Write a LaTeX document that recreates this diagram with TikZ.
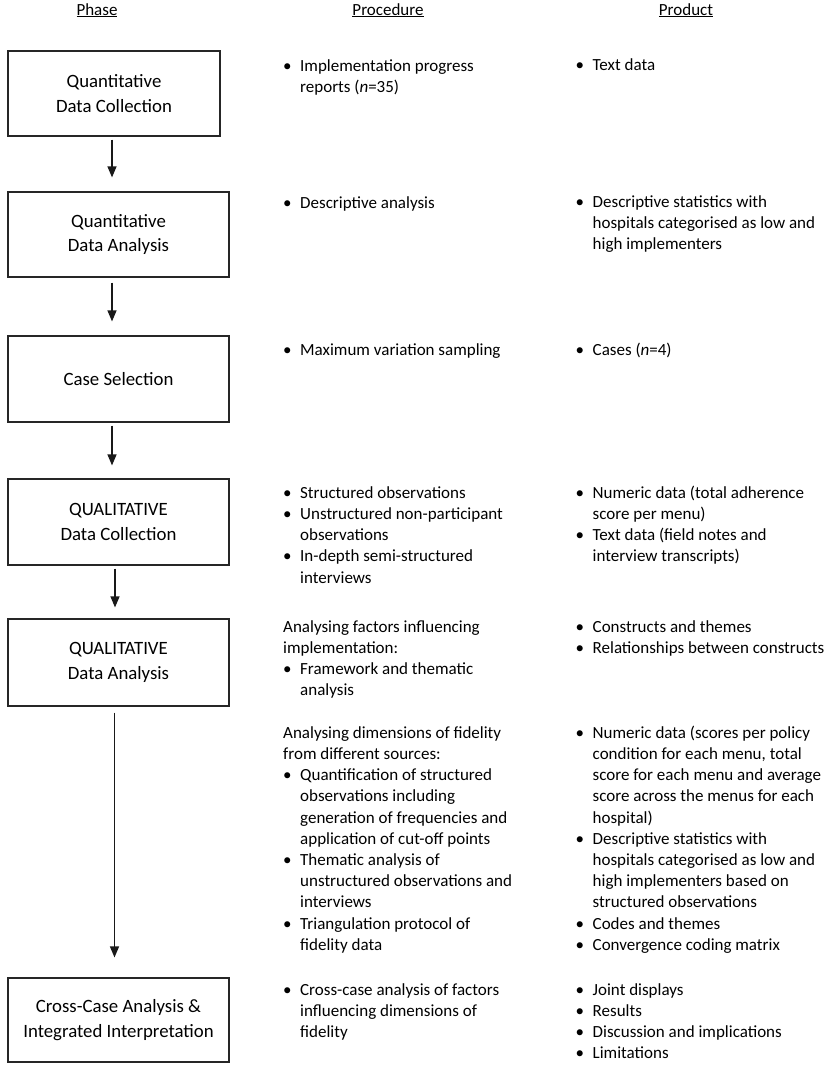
\documentclass[tikz,border=0pt]{standalone}
\usepackage{fontspec}
\setmainfont{Carlito}
\usetikzlibrary{arrows.meta,calc}
\newcommand\bu{\makebox[17pt][l]{•}}
\newcommand\ct{\hspace*{17pt}}
\tikzset{
  lst/.style={anchor=north west, inner sep=0pt, align=left, font=\fontsize{17}{21.2}\selectfont},
  boxst/.style={draw=black!85, line width=1.2pt, align=center, inner sep=0pt, anchor=center,
    font=\fontsize{18.8}{24.5}\selectfont},
  hdr/.style={anchor=base, inner sep=0pt, font=\fontsize{17}{21}\selectfont},
  arr/.style={draw=black!90, line width=1.3pt, -{Triangle[width=9pt,length=11pt]}}
}
\newcommand\blk[4]{\node[lst] (#1) at (#2,#3-15) {\rule{0pt}{15pt}#4};}
\begin{document}
\begin{tikzpicture}[x=1pt,y=-1pt]
\useasboundingbox (0,0) rectangle (829,1068);
% headers
\node[hdr] (h1) at (97,15) {\underline{Phase}};
\node[hdr] (h2) at (388,15) {\underline{Procedure}};
\node[hdr] (h3) at (686,15) {\underline{Product}};
% boxes
\node[boxst, minimum width=212pt, minimum height=85pt] (b1) at (114,93.5) {Quantitative\\Data Collection};
\node[boxst, minimum width=221pt, minimum height=85pt] (b2) at (118.5,234.5) {Quantitative\\Data Analysis};
\node[boxst, minimum width=221pt, minimum height=86pt] (b3) at (118.5,379) {Case Selection};
\node[boxst, minimum width=221pt, minimum height=86pt] (b4) at (118.5,522) {QUALITATIVE\\Data Collection};
\node[boxst, minimum width=221pt, minimum height=87pt] (b5) at (118.5,662.5) {QUALITATIVE\\Data Analysis};
\node[boxst, minimum width=221pt, minimum height=84pt] (b6) at (118.5,1020) {Cross-Case Analysis \&\\Integrated Interpretation};
% arrows
\draw[arr] ($(b1.south)+(-2,3)$) -- ($(b2.north)+(-6.5,-14)$);
\draw[arr] ($(b2.south)+(-6.5,5)$) -- ($(b3.north)+(-6.5,-14)$);
\draw[arr] ($(b3.south)+(-6.5,3)$) -- ($(b4.north)+(-6.5,-13)$);
\draw[arr] ($(b4.south)+(-3.5,3)$) -- ($(b5.north)+(-3.5,-11)$);
\draw[arr] ($(b5.south)+(-4,6)$) -- ($(b6.north)+(-4,-20)$);
% procedure column
\blk{p1}{283}{71}{\bu Implementation progress\\\ct reports (\textit{n}=35)}
\blk{p2}{283}{208}{\bu Descriptive analysis}
\blk{p3}{283}{355}{\bu Maximum variation sampling}
\blk{p4}{283}{498}{\bu Structured observations\\\bu Unstructured non-participant\\\ct observations\\\bu In-depth semi-structured\\\ct interviews}
\blk{p5}{283}{632}{Analysing factors influencing\\implementation:\\\bu Framework and thematic\\\ct analysis}
\blk{p6}{283}{738}{Analysing dimensions of fidelity\\from different sources:\\\bu Quantification of structured\\\ct observations including\\\ct generation of frequencies and\\\ct application of cut-off points\\\bu Thematic analysis of\\\ct unstructured observations and\\\ct interviews\\\bu Triangulation protocol of\\\ct fidelity data}
\blk{p7}{283}{995}{\bu Cross-case analysis of factors\\\ct influencing dimensions of\\\ct fidelity}
% product column
\blk{r1}{575.5}{70}{\bu Text data}
\blk{r2}{575.5}{207}{\bu Descriptive statistics with\\\ct hospitals categorised as low and\\\ct high implementers}
\blk{r3}{575.5}{355}{\bu Cases (\textit{n}=4)}
\blk{r4}{575.5}{498}{\bu Numeric data (total adherence\\\ct score per menu)\\\bu Text data (field notes and\\\ct interview transcripts)}
\blk{r5}{575.5}{632}{\bu Constructs and themes\\\bu Relationships between constructs}
\blk{r6}{575.5}{738}{\bu Numeric data (scores per policy\\\ct condition for each menu, total\\\ct score for each menu and average\\\ct score across the menus for each\\\ct hospital)\\\bu Descriptive statistics with\\\ct hospitals categorised as low and\\\ct high implementers based on\\\ct structured observations\\\bu Codes and themes\\\bu Convergence coding matrix}
\blk{r7}{575.5}{995}{\bu Joint displays\\\bu Results\\\bu Discussion and implications\\\bu Limitations}
\end{tikzpicture}
\end{document}
